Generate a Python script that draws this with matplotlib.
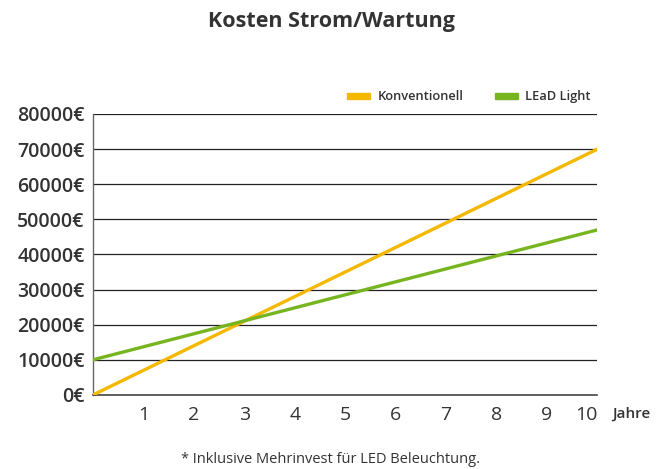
import numpy as np
import matplotlib.pyplot as plt

# values
jahre = [0, 10]
konventionell = [0, 70000]
lead_light = [10000, 47000]
y_ticks = [0, 10000, 20000, 30000, 40000, 50000, 60000, 70000, 80000]
x_ticks = [1, 2, 3, 4, 5, 6, 7, 8, 9, 10]

plt.rcParams['font.family'] = ['Open Sans', 'DejaVu Sans']

fig = plt.figure(figsize=(6.62, 4.69), dpi=100)
ax = fig.add_axes([0.1405, 0.158, 0.762, 0.599])

ax.plot(jahre, konventionell, color='#F5B800', linewidth=2.4, solid_capstyle='round', zorder=3)
ax.plot(jahre, lead_light, color='#76B520', linewidth=2.4, solid_capstyle='round', zorder=3)

ax.set_xlim(0, 10)
ax.set_ylim(0, 80000)
ax.set_yticks(y_ticks)
ax.set_yticklabels([f"{v}€" for v in y_ticks], fontsize=14, fontweight='semibold', color='#333333')
ax.set_xticks(x_ticks)
ax.set_xticklabels([str(v) for v in x_ticks], fontsize=14, color='#333333')
ax.tick_params(axis='both', length=0)
ax.tick_params(axis='x', pad=8)
ax.tick_params(axis='y', pad=6)
for lbl in ax.get_xticklabels()[-1:]:
    lbl.set_horizontalalignment('right')

for v in y_ticks[1:]:
    ax.axhline(v, color='#222222', linewidth=0.9, zorder=1)

for s in ['top', 'right']:
    ax.spines[s].set_visible(False)
ax.spines['left'].set_color('#666666')
ax.spines['bottom'].set_color('#444444')
ax.spines['left'].set_linewidth(1.0)
ax.spines['bottom'].set_linewidth(1.2)

fig.text(0.925, 0.117, "Jahre", fontsize=11, color='#333333', fontweight='semibold', va='center')

fig.text(0.5, 0.955, "Kosten Strom/Wartung", fontsize=15.5, fontweight='bold',
         color='#333333', ha='center', va='center')

# legend
fig.patches.append(plt.Rectangle((347 / 662, 1 - 99 / 469), 23 / 662, 6 / 469,
                                 color='#F5B800', transform=fig.transFigure, figure=fig))
fig.text(378 / 662, 1 - 96 / 469, "Konventionell", fontsize=9.3, fontweight='semibold',
         color='#333333', va='center')
fig.patches.append(plt.Rectangle((495 / 662, 1 - 99 / 469), 23 / 662, 6 / 469,
                                 color='#76B520', transform=fig.transFigure, figure=fig))
fig.text(525 / 662, 1 - 96 / 469, "LEaD Light", fontsize=9.3, fontweight='semibold',
         color='#333333', va='center')

fig.text(0.5, 1 - 459 / 469, "* Inklusive Mehrinvest für LED Beleuchtung.", fontsize=10.5,
         color='#333333', ha='center', va='center')

fig.savefig('out.png', dpi=100)
